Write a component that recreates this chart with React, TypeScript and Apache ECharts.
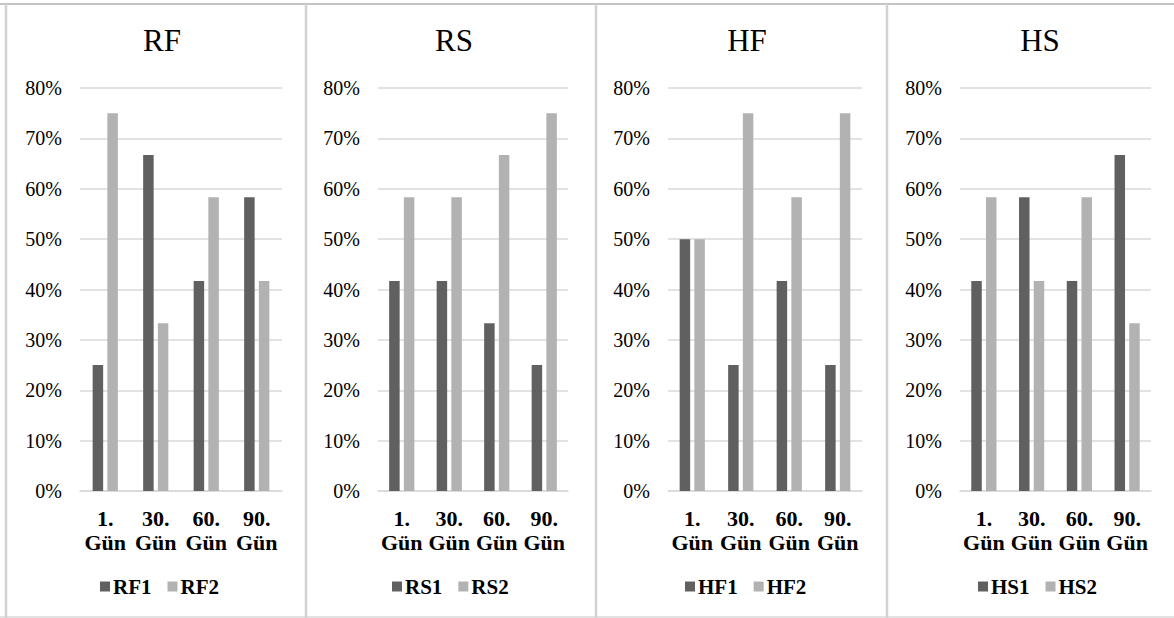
import React, { useEffect, useRef } from "react";
import * as echarts from "echarts";

const categories = ["1.\nGün", "30.\nGün", "60.\nGün", "90.\nGün"];
const panelTitles = ["RF", "RS", "HF", "HS"];
const seriesNames = [
  ["RF1", "RF2"],
  ["RS1", "RS2"],
  ["HF1", "HF2"],
  ["HS1", "HS2"],
];
const rf1 = [25, 66.7, 41.7, 58.3];
const rf2 = [75, 33.3, 58.3, 41.7];
const rs1 = [41.7, 41.7, 33.3, 25];
const rs2 = [58.3, 58.3, 66.7, 75];
const hf1 = [50, 25, 41.7, 25];
const hf2 = [50, 75, 58.3, 75];
const hs1 = [41.7, 58.3, 41.7, 66.7];
const hs2 = [58.3, 41.7, 58.3, 33.3];
const panelValues = [
  [rf1, rf2],
  [rs1, rs2],
  [hf1, hf2],
  [hs1, hs2],
];
const yTicks = [0, 10, 20, 30, 40, 50, 60, 70, 80];

const W = 1174;
const H = 618;
const FONT = "'Liberation Serif', 'Times New Roman', serif";
const DARK = "#606060";
const LIGHT = "#b2b2b2";

// plot area of each panel: [left, right]
const plotX = [
  [80, 282],
  [378, 568],
  [668, 862],
  [960, 1151],
];
const titleX = [157, 449, 742, 1035];
const dividers = [6, 306, 596, 887];

export default function App() {
  const ref = useRef<HTMLDivElement>(null);

  useEffect(() => {
    if (!ref.current) return;
    const chart = echarts.init(ref.current, null, { renderer: "svg" });

    const grids = plotX.map(([l, r]) => ({
      left: l,
      width: r - l,
      top: 88,
      height: 403,
      containLabel: false,
    }));

    const xAxes = plotX.map((_, i) => ({
      type: "category",
      gridIndex: i,
      data: categories,
      axisLine: { show: true, lineStyle: { color: "#d9d9d9", width: 1.5 } },
      axisTick: { show: false },
      axisLabel: {
        color: "#000",
        fontFamily: FONT,
        fontWeight: "bold",
        fontSize: 22,
        lineHeight: 24,
        margin: 15,
        interval: 0,
      },
    }));

    const yAxes = plotX.map((_, i) => ({
      type: "value",
      gridIndex: i,
      min: 0,
      max: yTicks[yTicks.length - 1],
      interval: 10,
      axisLine: { show: false },
      axisTick: { show: false },
      splitLine: { lineStyle: { color: "#d9d9d9", width: 1.5 } },
      axisLabel: {
        color: "#000",
        fontFamily: FONT,
        fontSize: 20,
        margin: 18,
        formatter: (v: number) => `${v}%`,
      },
    }));

    const series: any[] = [];
    panelValues.forEach((pair, i) => {
      pair.forEach((vals, j) => {
        series.push({
          type: "bar",
          name: seriesNames[i][j],
          xAxisIndex: i,
          yAxisIndex: i,
          data: vals,
          barWidth: 10.5,
          barGap: "40%",
          itemStyle: { color: j === 0 ? DARK : LIGHT },
        });
      });
    });

    const legends = seriesNames.map((names, i) => ({
      data: names,
      left: titleX[i] - 62,
      width: 150,
      top: 571,
      itemWidth: 10,
      itemHeight: 10,
      itemGap: 16,
      icon: "rect",
      textStyle: {
        color: "#000",
        fontFamily: FONT,
        fontWeight: "bold",
        fontSize: 21,
        padding: [0, 0, 0, -2],
      },
    }));

    const titles = panelTitles.map((t, i) => ({
      text: t,
      left: titleX[i],
      top: 20,
      textAlign: "center",
      textStyle: {
        color: "#000",
        fontFamily: FONT,
        fontWeight: "normal",
        fontSize: 31,
      },
    }));

    const borderColor = "#d2d2d2";
    const graphic: any[] = [
      {
        type: "line",
        shape: { x1: 0, y1: 4, x2: W, y2: 4 },
        style: { stroke: "#c4c4c4", lineWidth: 2 },
      },
      {
        type: "line",
        shape: { x1: 0, y1: 617, x2: W, y2: 617 },
        style: { stroke: "#e2e2e2", lineWidth: 2 },
      },
      ...dividers.map((x) => ({
        type: "line",
        shape: { x1: x, y1: 4, x2: x, y2: H },
        style: { stroke: borderColor, lineWidth: 2.5 },
      })),
    ];

    chart.setOption({
      animation: false,
      backgroundColor: "#fff",
      title: titles,
      grid: grids,
      xAxis: xAxes,
      yAxis: yAxes,
      legend: legends,
      series,
      graphic,
    });

    return () => chart.dispose();
  }, []);

  return (
    <div
      ref={ref}
      style={{ position: "absolute", left: 0, top: 0, width: W, height: H }}
    />
  );
}
